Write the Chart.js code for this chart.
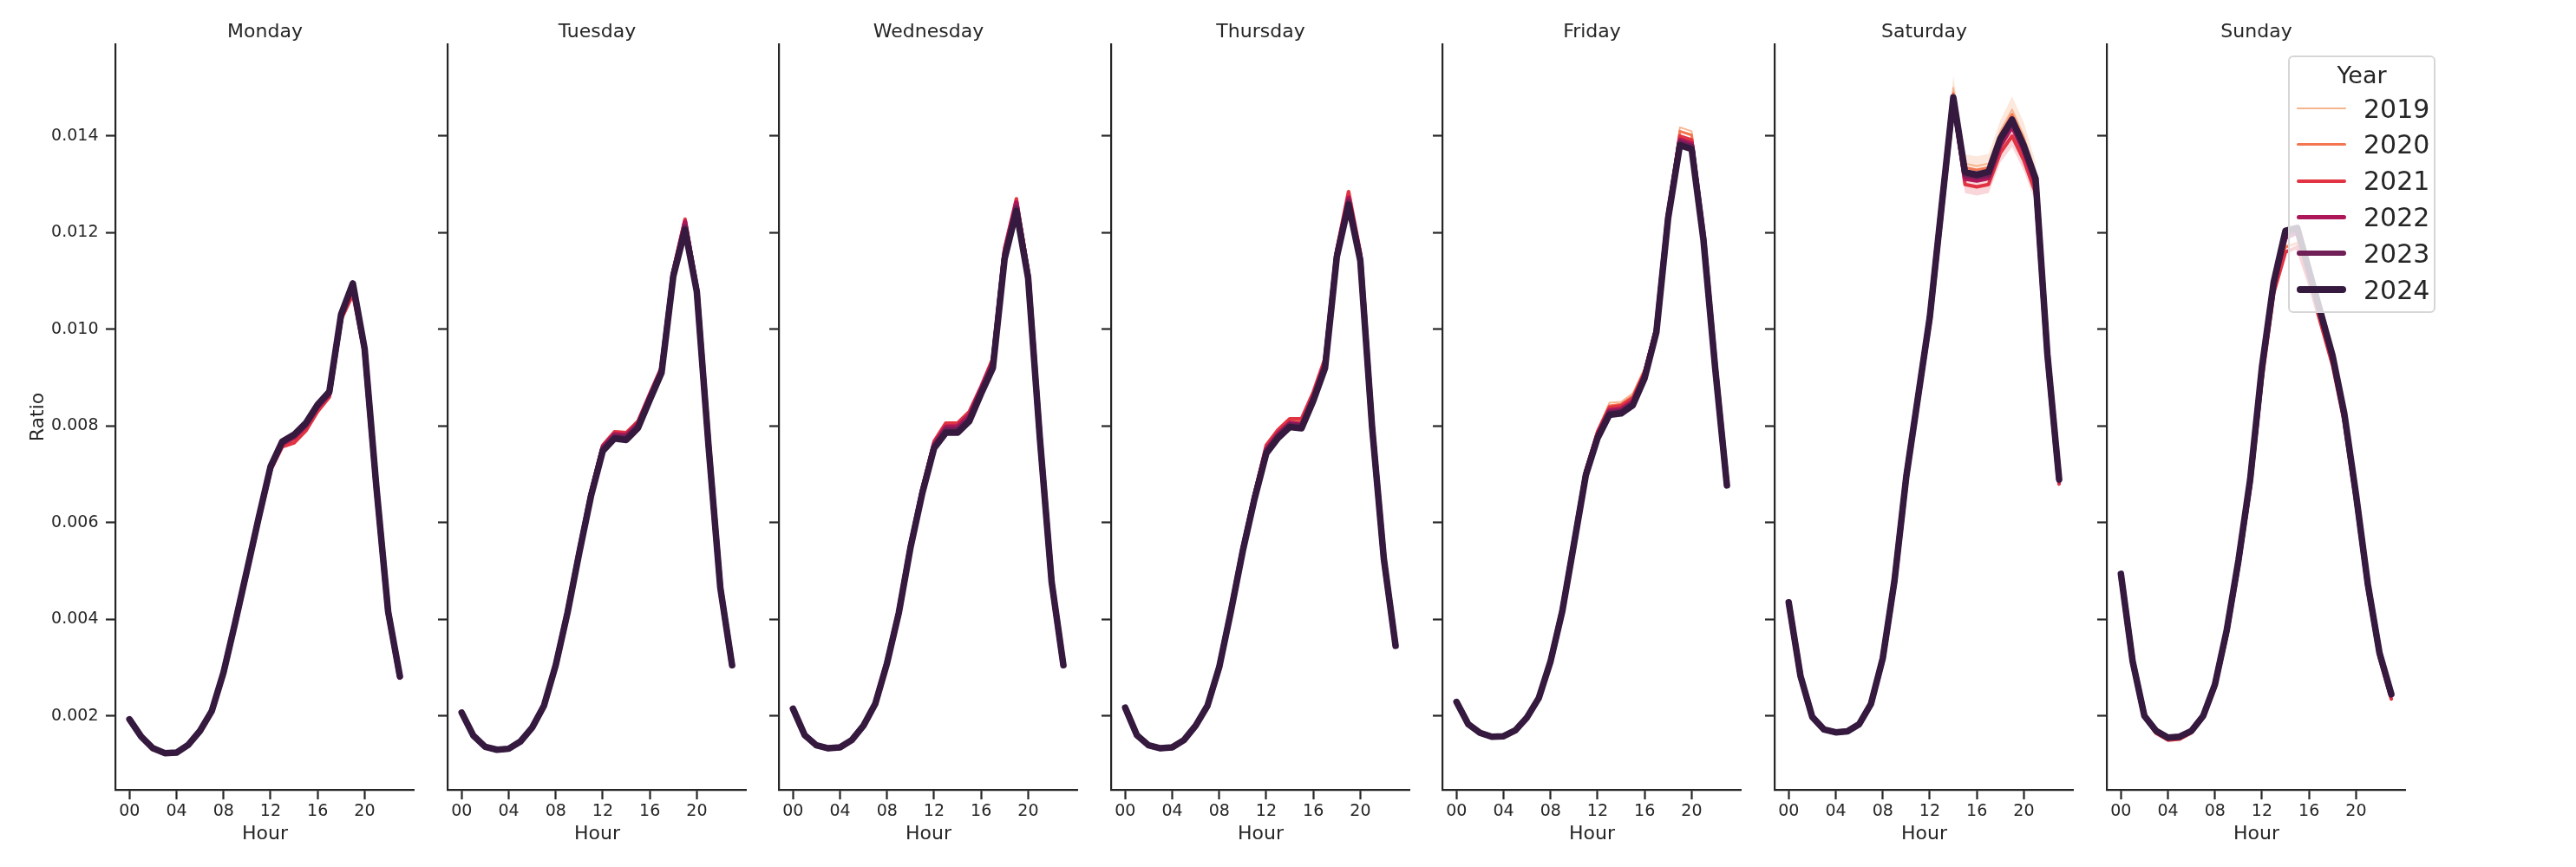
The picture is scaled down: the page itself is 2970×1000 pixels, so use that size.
<!DOCTYPE html>
<html>
<head>
<meta charset="utf-8">
<script src="https://cdn.jsdelivr.net/npm/chart.js@4.4.1/dist/chart.umd.min.js"></script>
<style>
  body { margin: 0; background: #fff; width: 2970px; height: 1000px; position: relative; overflow: hidden;
         font-family: "DejaVu Sans", sans-serif; color: #262626; }
  canvas { position: absolute; top: 0; }
  #legend { position: absolute; left: 2638px; top: 64px; width: 170px; height: 297px; box-sizing: border-box;
            border: 2px solid #d6d6d6; border-radius: 6px; background: rgba(255,255,255,0.8); z-index: 5; }
  #legend .ttl { position: absolute; left: 0; width: 100%; top: 7px; text-align: center; font-size: 27px; line-height: 27px; }
  #legend .sw  { position: absolute; left: 8px; width: 57px; }
  #legend .lab { position: absolute; left: 85px; font-size: 30px; line-height: 30px; }
</style>
</head>
<body>
<div id="legend"><div class="ttl">Year</div></div>
<script>
// ----------------------------------------
// 1. DATOS
// ----------------------------------------
const days = ['Monday', 'Tuesday', 'Wednesday', 'Thursday', 'Friday', 'Saturday', 'Sunday'];
const years = ['2019', '2020', '2021', '2022', '2023', '2024'];
const hours = [0, 1, 2, 3, 4, 5, 6, 7, 8, 9, 10, 11, 12, 13, 14, 15, 16, 17, 18, 19, 20, 21, 22, 23];
const hourTicks = [0, 4, 8, 12, 16, 20];
const ratioTicks = [0.002, 0.004, 0.006, 0.008, 0.010, 0.012, 0.014];

const mon2019 = [0.00192,0.00156,0.00132,0.00123,0.00124,0.00139,0.00168,0.00209,0.00289,0.00393,0.00500,0.00608,0.00710,0.00758,0.00768,0.00792,0.00832,0.00860,0.01022,0.01078,0.00952,0.00670,0.00413,0.00279];
const mon2020 = [0.00192,0.00156,0.00132,0.00122,0.00123,0.00139,0.00168,0.00209,0.00289,0.00392,0.00500,0.00607,0.00710,0.00760,0.00770,0.00794,0.00834,0.00862,0.01022,0.01080,0.00952,0.00670,0.00413,0.00279];
const mon2021 = [0.00191,0.00155,0.00131,0.00122,0.00123,0.00139,0.00168,0.00209,0.00289,0.00392,0.00499,0.00606,0.00708,0.00757,0.00765,0.00790,0.00830,0.00860,0.01020,0.01072,0.00950,0.00668,0.00412,0.00278];
const mon2022 = [0.00192,0.00156,0.00132,0.00123,0.00124,0.00140,0.00169,0.00210,0.00290,0.00393,0.00501,0.00609,0.00712,0.00763,0.00776,0.00800,0.00838,0.00866,0.01025,0.01090,0.00956,0.00672,0.00414,0.00280];
const mon2023 = [0.00193,0.00157,0.00133,0.00123,0.00124,0.00140,0.00169,0.00210,0.00290,0.00394,0.00502,0.00611,0.00714,0.00766,0.00780,0.00804,0.00842,0.00869,0.01028,0.01092,0.00958,0.00673,0.00415,0.00281];
const mon2024 = [0.00193,0.00157,0.00133,0.00123,0.00124,0.00140,0.00169,0.00210,0.00290,0.00394,0.00502,0.00611,0.00716,0.00768,0.00782,0.00806,0.00844,0.00871,0.01031,0.01095,0.00960,0.00674,0.00416,0.00282];

const tue2019 = [0.00207,0.00160,0.00137,0.00131,0.00133,0.00148,0.00177,0.00222,0.00306,0.00416,0.00542,0.00663,0.00758,0.00789,0.00788,0.00808,0.00862,0.00917,0.01112,0.01210,0.01080,0.00760,0.00466,0.00306];
const tue2020 = [0.00207,0.00160,0.00137,0.00131,0.00133,0.00148,0.00177,0.00222,0.00306,0.00416,0.00542,0.00662,0.00758,0.00786,0.00784,0.00806,0.00862,0.00918,0.01115,0.01215,0.01082,0.00761,0.00466,0.00306];
const tue2021 = [0.00208,0.00160,0.00137,0.00131,0.00133,0.00148,0.00177,0.00222,0.00307,0.00417,0.00544,0.00664,0.00760,0.00788,0.00786,0.00810,0.00867,0.00922,0.01122,0.01228,0.01086,0.00763,0.00467,0.00306];
const tue2022 = [0.00207,0.00159,0.00136,0.00130,0.00132,0.00147,0.00176,0.00222,0.00306,0.00415,0.00541,0.00661,0.00756,0.00783,0.00781,0.00805,0.00862,0.00918,0.01118,0.01222,0.01083,0.00762,0.00467,0.00306];
const tue2023 = [0.00207,0.00159,0.00136,0.00130,0.00132,0.00147,0.00176,0.00221,0.00305,0.00414,0.00539,0.00658,0.00752,0.00778,0.00776,0.00800,0.00857,0.00913,0.01113,0.01212,0.01080,0.00760,0.00466,0.00305];
const tue2024 = [0.00207,0.00159,0.00136,0.00130,0.00132,0.00147,0.00176,0.00221,0.00305,0.00413,0.00537,0.00655,0.00748,0.00774,0.00771,0.00796,0.00854,0.00910,0.01110,0.01206,0.01078,0.00758,0.00465,0.00305];

const wed2019 = [0.00215,0.00160,0.00139,0.00133,0.00135,0.00150,0.00180,0.00226,0.00311,0.00417,0.00554,0.00668,0.00764,0.00800,0.00800,0.00822,0.00875,0.00930,0.01155,0.01252,0.01110,0.00776,0.00478,0.00306];
const wed2020 = [0.00215,0.00160,0.00139,0.00133,0.00135,0.00150,0.00180,0.00226,0.00311,0.00417,0.00555,0.00669,0.00765,0.00802,0.00802,0.00826,0.00878,0.00935,0.01160,0.01258,0.01112,0.00776,0.00478,0.00306];
const wed2021 = [0.00216,0.00161,0.00140,0.00134,0.00136,0.00151,0.00181,0.00227,0.00312,0.00418,0.00557,0.00671,0.00768,0.00806,0.00806,0.00830,0.00882,0.00940,0.01168,0.01270,0.01118,0.00778,0.00479,0.00306];
const wed2022 = [0.00215,0.00160,0.00139,0.00133,0.00135,0.00150,0.00180,0.00226,0.00311,0.00416,0.00554,0.00667,0.00762,0.00798,0.00799,0.00822,0.00877,0.00932,0.01160,0.01262,0.01114,0.00777,0.00478,0.00306];
const wed2023 = [0.00215,0.00160,0.00139,0.00133,0.00135,0.00150,0.00180,0.00225,0.00310,0.00414,0.00551,0.00664,0.00757,0.00792,0.00792,0.00815,0.00871,0.00925,0.01152,0.01252,0.01110,0.00775,0.00477,0.00305];
const wed2024 = [0.00215,0.00160,0.00139,0.00133,0.00135,0.00150,0.00180,0.00225,0.00309,0.00413,0.00549,0.00661,0.00754,0.00786,0.00786,0.00810,0.00867,0.00920,0.01146,0.01245,0.01106,0.00774,0.00477,0.00305];

const thu2019 = [0.00217,0.00160,0.00139,0.00133,0.00135,0.00150,0.00180,0.00222,0.00303,0.00420,0.00546,0.00656,0.00754,0.00786,0.00808,0.00808,0.00862,0.00930,0.01158,0.01270,0.01150,0.00802,0.00527,0.00346];
const thu2020 = [0.00217,0.00160,0.00139,0.00133,0.00135,0.00150,0.00180,0.00222,0.00303,0.00420,0.00547,0.00657,0.00756,0.00788,0.00810,0.00810,0.00865,0.00934,0.01160,0.01275,0.01152,0.00802,0.00527,0.00346];
const thu2021 = [0.00218,0.00161,0.00140,0.00134,0.00136,0.00151,0.00181,0.00223,0.00304,0.00422,0.00550,0.00660,0.00760,0.00792,0.00815,0.00815,0.00870,0.00940,0.01165,0.01285,0.01160,0.00805,0.00528,0.00346];
const thu2022 = [0.00217,0.00160,0.00139,0.00133,0.00135,0.00150,0.00180,0.00222,0.00302,0.00419,0.00545,0.00655,0.00752,0.00784,0.00806,0.00804,0.00860,0.00930,0.01158,0.01272,0.01150,0.00801,0.00526,0.00345];
const thu2023 = [0.00217,0.00160,0.00139,0.00133,0.00135,0.00150,0.00180,0.00221,0.00301,0.00418,0.00543,0.00652,0.00747,0.00779,0.00802,0.00799,0.00856,0.00925,0.01154,0.01264,0.01146,0.00799,0.00525,0.00345];
const thu2024 = [0.00217,0.00160,0.00139,0.00133,0.00135,0.00150,0.00180,0.00221,0.00301,0.00417,0.00541,0.00649,0.00743,0.00775,0.00798,0.00795,0.00852,0.00920,0.01150,0.01258,0.01142,0.00798,0.00525,0.00345];

const fri2019 = [0.00229,0.00184,0.00166,0.00158,0.00159,0.00171,0.00198,0.00238,0.00315,0.00421,0.00565,0.00712,0.00792,0.00848,0.00850,0.00868,0.00920,0.01012,0.01245,0.01418,0.01410,0.01205,0.00930,0.00682];
const fri2020 = [0.00229,0.00184,0.00166,0.00158,0.00159,0.00171,0.00198,0.00238,0.00315,0.00420,0.00563,0.00710,0.00790,0.00842,0.00845,0.00862,0.00915,0.01008,0.01242,0.01410,0.01402,0.01200,0.00928,0.00681];
const fri2021 = [0.00229,0.00184,0.00166,0.00158,0.00159,0.00171,0.00198,0.00238,0.00314,0.00420,0.00562,0.00708,0.00788,0.00838,0.00842,0.00858,0.00912,0.01005,0.01240,0.01400,0.01392,0.01198,0.00926,0.00680];
const fri2022 = [0.00229,0.00183,0.00165,0.00157,0.00158,0.00170,0.00197,0.00237,0.00314,0.00419,0.00560,0.00704,0.00782,0.00832,0.00835,0.00851,0.00906,0.01000,0.01236,0.01392,0.01384,0.01194,0.00924,0.00679];
const fri2023 = [0.00229,0.00183,0.00165,0.00157,0.00158,0.00170,0.00197,0.00237,0.00313,0.00418,0.00558,0.00700,0.00778,0.00827,0.00830,0.00846,0.00902,0.00997,0.01233,0.01386,0.01378,0.01190,0.00922,0.00678];
const fri2024 = [0.00229,0.00183,0.00165,0.00157,0.00158,0.00170,0.00197,0.00237,0.00313,0.00417,0.00557,0.00698,0.00775,0.00823,0.00826,0.00843,0.00899,0.00994,0.01230,0.01381,0.01373,0.01186,0.00920,0.00677];

const sat2019 = [0.00435,0.00283,0.00198,0.00172,0.00166,0.00168,0.00183,0.00225,0.00319,0.00480,0.00695,0.00860,0.01025,0.01255,0.01500,0.01343,0.01338,0.01343,0.01410,0.01455,0.01400,0.01322,0.00955,0.00692];
const sat2020 = [0.00435,0.00283,0.00198,0.00172,0.00166,0.00168,0.00183,0.00225,0.00319,0.00480,0.00695,0.00860,0.01025,0.01254,0.01488,0.01335,0.01330,0.01335,0.01403,0.01445,0.01392,0.01318,0.00952,0.00691];
const sat2021 = [0.00434,0.00282,0.00197,0.00171,0.00165,0.00167,0.00182,0.00224,0.00318,0.00478,0.00692,0.00856,0.01020,0.01248,0.01470,0.01300,0.01295,0.01300,0.01365,0.01400,0.01350,0.01282,0.00940,0.00680];
const sat2022 = [0.00435,0.00283,0.00198,0.00172,0.00166,0.00168,0.00183,0.00225,0.00319,0.00479,0.00694,0.00858,0.01023,0.01250,0.01476,0.01312,0.01308,0.01313,0.01380,0.01420,0.01368,0.01300,0.00945,0.00686];
const sat2023 = [0.00435,0.00283,0.00198,0.00172,0.00166,0.00168,0.00183,0.00225,0.00319,0.00480,0.00695,0.00860,0.01024,0.01252,0.01478,0.01320,0.01316,0.01320,0.01390,0.01430,0.01376,0.01308,0.00948,0.00688];
const sat2024 = [0.00435,0.00283,0.00198,0.00172,0.00166,0.00168,0.00183,0.00225,0.00319,0.00480,0.00695,0.00860,0.01025,0.01253,0.01480,0.01325,0.01320,0.01326,0.01395,0.01434,0.01380,0.01312,0.00949,0.00690];

const sun2019 = [0.00494,0.00313,0.00200,0.00168,0.00154,0.00156,0.00168,0.00199,0.00263,0.00373,0.00516,0.00682,0.00905,0.01085,0.01172,0.01180,0.01106,0.01020,0.00935,0.00815,0.00650,0.00467,0.00326,0.00241];
const sun2020 = [0.00494,0.00313,0.00200,0.00168,0.00154,0.00156,0.00168,0.00199,0.00263,0.00372,0.00515,0.00680,0.00903,0.01083,0.01170,0.01178,0.01105,0.01018,0.00933,0.00813,0.00648,0.00466,0.00325,0.00240];
const sun2021 = [0.00492,0.00311,0.00198,0.00164,0.00150,0.00152,0.00165,0.00196,0.00258,0.00365,0.00508,0.00672,0.00895,0.01075,0.01160,0.01170,0.01098,0.01012,0.00926,0.00808,0.00642,0.00460,0.00320,0.00235];
const sun2022 = [0.00494,0.00313,0.00200,0.00168,0.00155,0.00157,0.00169,0.00200,0.00264,0.00375,0.00518,0.00686,0.00915,0.01090,0.01190,0.01200,0.01115,0.01028,0.00940,0.00820,0.00654,0.00470,0.00328,0.00243];
const sun2023 = [0.00494,0.00313,0.00200,0.00169,0.00155,0.00157,0.00169,0.00200,0.00265,0.00376,0.00520,0.00688,0.00918,0.01095,0.01198,0.01205,0.01119,0.01031,0.00943,0.00823,0.00656,0.00472,0.00329,0.00244];
const sun2024 = [0.00494,0.00313,0.00200,0.00169,0.00155,0.00157,0.00169,0.00200,0.00265,0.00377,0.00522,0.00690,0.00922,0.01098,0.01204,0.01210,0.01122,0.01034,0.00946,0.00826,0.00658,0.00473,0.00330,0.00245];

// bandas de confianza visibles (sábado)
const sat2019Hi = [0.00435,0.00283,0.00198,0.00172,0.00166,0.00168,0.00183,0.00225,0.00319,0.00480,0.00695,0.00860,0.01030,0.01275,0.01525,0.01362,0.01358,0.01363,0.01432,0.01482,0.01428,0.01345,0.00975,0.00705];
const sat2019Lo = [0.00435,0.00283,0.00198,0.00172,0.00166,0.00168,0.00183,0.00225,0.00319,0.00480,0.00695,0.00860,0.01020,0.01235,0.01475,0.01322,0.01318,0.01323,0.01388,0.01428,0.01372,0.01298,0.00935,0.00678];
const sat2021Hi = [0.00434,0.00282,0.00197,0.00171,0.00165,0.00167,0.00182,0.00224,0.00318,0.00478,0.00692,0.00856,0.01025,0.01265,0.01490,0.01318,0.01313,0.01318,0.01385,0.01422,0.01372,0.01302,0.00955,0.00692];
const sat2021Lo = [0.00434,0.00282,0.00197,0.00171,0.00165,0.00167,0.00182,0.00224,0.00318,0.00478,0.00692,0.00856,0.01015,0.01230,0.01450,0.01282,0.01277,0.01282,0.01345,0.01378,0.01328,0.01262,0.00925,0.00668];

const dayData = [
  [mon2019, mon2020, mon2021, mon2022, mon2023, mon2024],
  [tue2019, tue2020, tue2021, tue2022, tue2023, tue2024],
  [wed2019, wed2020, wed2021, wed2022, wed2023, wed2024],
  [thu2019, thu2020, thu2021, thu2022, thu2023, thu2024],
  [fri2019, fri2020, fri2021, fri2022, fri2023, fri2024],
  [sat2019, sat2020, sat2021, sat2022, sat2023, sat2024],
  [sun2019, sun2020, sun2021, sun2022, sun2023, sun2024]
];
const dayBands = { 5: [[sat2019Hi, sat2019Lo, 'rgba(246,180,143,0.3)'], [sat2021Hi, sat2021Lo, 'rgba(225,51,66,0.2)']] };

// ----------------------------------------
// 2. ESTILO
// ----------------------------------------
const yearColors = ['#f6b48f', '#f37651', '#e13342', '#ad1759', '#701f57', '#35193e'];
const yearWidths = [1.9, 3.0, 4.1, 5.3, 6.4, 7.5];
const ink = '#262626';

Chart.defaults.font.family = '"DejaVu Sans", sans-serif';
Chart.defaults.color = ink;

const toPoints = arr => hours.map((h, j) => ({ x: h, y: arr[j] }));

// ----------------------------------------
// 3. PANELES
// ----------------------------------------
days.forEach((day, i) => {
  const canvas = document.createElement('canvas');
  canvas.width = 465;
  canvas.height = 1000;
  canvas.style.left = Math.round(13 + 382.6 * i) + 'px';
  document.body.appendChild(canvas);

  const datasets = years.map((yr, k) => ({
    label: yr,
    data: toPoints(dayData[i][k]),
    borderColor: yearColors[k],
    borderWidth: yearWidths[k],
    borderCapStyle: 'round',
    borderJoinStyle: 'round',
    pointRadius: 0,
    tension: 0,
    fill: false,
    order: years.length - 1 - k
  }));

  (dayBands[i] || []).forEach(([hi, lo, col]) => {
    datasets.push({ data: toPoints(hi), borderWidth: 0, pointRadius: 0, fill: '+1', backgroundColor: col, order: 20 });
    datasets.push({ data: toPoints(lo), borderWidth: 0, pointRadius: 0, fill: false, order: 21 });
  });

  new Chart(canvas, {
    type: 'line',
    data: { datasets },
    options: {
      responsive: false,
      animation: false,
      devicePixelRatio: 1,
      events: [],
      layout: { padding: 0 },
      plugins: {
        legend: { display: false },
        tooltip: { enabled: false },
        title: {
          display: true,
          text: day,
          fullSize: false,
          color: ink,
          font: { size: 22, weight: 'normal' },
          padding: { top: 23.8, bottom: 0.8 }
        }
      },
      scales: {
        x: {
          type: 'linear',
          min: -1.2,
          max: 24.25,
          afterBuildTicks: s => { s.ticks = hourTicks.map(v => ({ value: v })); },
          afterFit: s => { s.height = 89; },
          ticks: {
            autoSkip: false,
            maxRotation: 0,
            padding: 3,
            color: ink,
            font: { size: 19 },
            callback: v => (v < 10 ? '0' : '') + v
          },
          grid: { drawOnChartArea: false, drawTicks: true, tickLength: 11, tickWidth: 2.2, tickColor: ink },
          border: { display: true, color: ink, width: 2.2 },
          title: { display: true, text: 'Hour', color: ink, font: { size: 22 }, padding: { top: 0, bottom: 24.5 } }
        },
        y: {
          min: 0.00047,
          max: 0.0159,
          afterBuildTicks: s => { s.ticks = ratioTicks.map(v => ({ value: v })); },
          afterFit: s => { s.width = 120; },
          ticks: {
            display: i === 0,
            padding: 8.5,
            color: ink,
            font: { size: 19 },
            callback: v => v.toFixed(3)
          },
          grid: { drawOnChartArea: false, drawTicks: true, tickLength: 11, tickWidth: 2.2, tickColor: ink },
          border: { display: true, color: ink, width: 2.2 },
          title: { display: i === 0, text: 'Ratio', color: ink, font: { size: 22 }, padding: { top: 18.3, bottom: 0 } }
        }
      }
    }
  });
});

// ----------------------------------------
// 4. LEYENDA (Year)
// ----------------------------------------
const legend = document.getElementById('legend');
years.forEach((yr, k) => {
  const cy = 59 + 41.8 * k;
  const sw = document.createElement('div');
  sw.className = 'sw';
  sw.style.top = (cy - yearWidths[k] / 2) + 'px';
  sw.style.height = yearWidths[k] + 'px';
  sw.style.borderRadius = yearWidths[k] + 'px';
  sw.style.background = yearColors[k];
  legend.appendChild(sw);
  const lab = document.createElement('div');
  lab.className = 'lab';
  lab.style.top = (cy - 14.4) + 'px';
  lab.textContent = yr;
  legend.appendChild(lab);
});
</script>
</body>
</html>
